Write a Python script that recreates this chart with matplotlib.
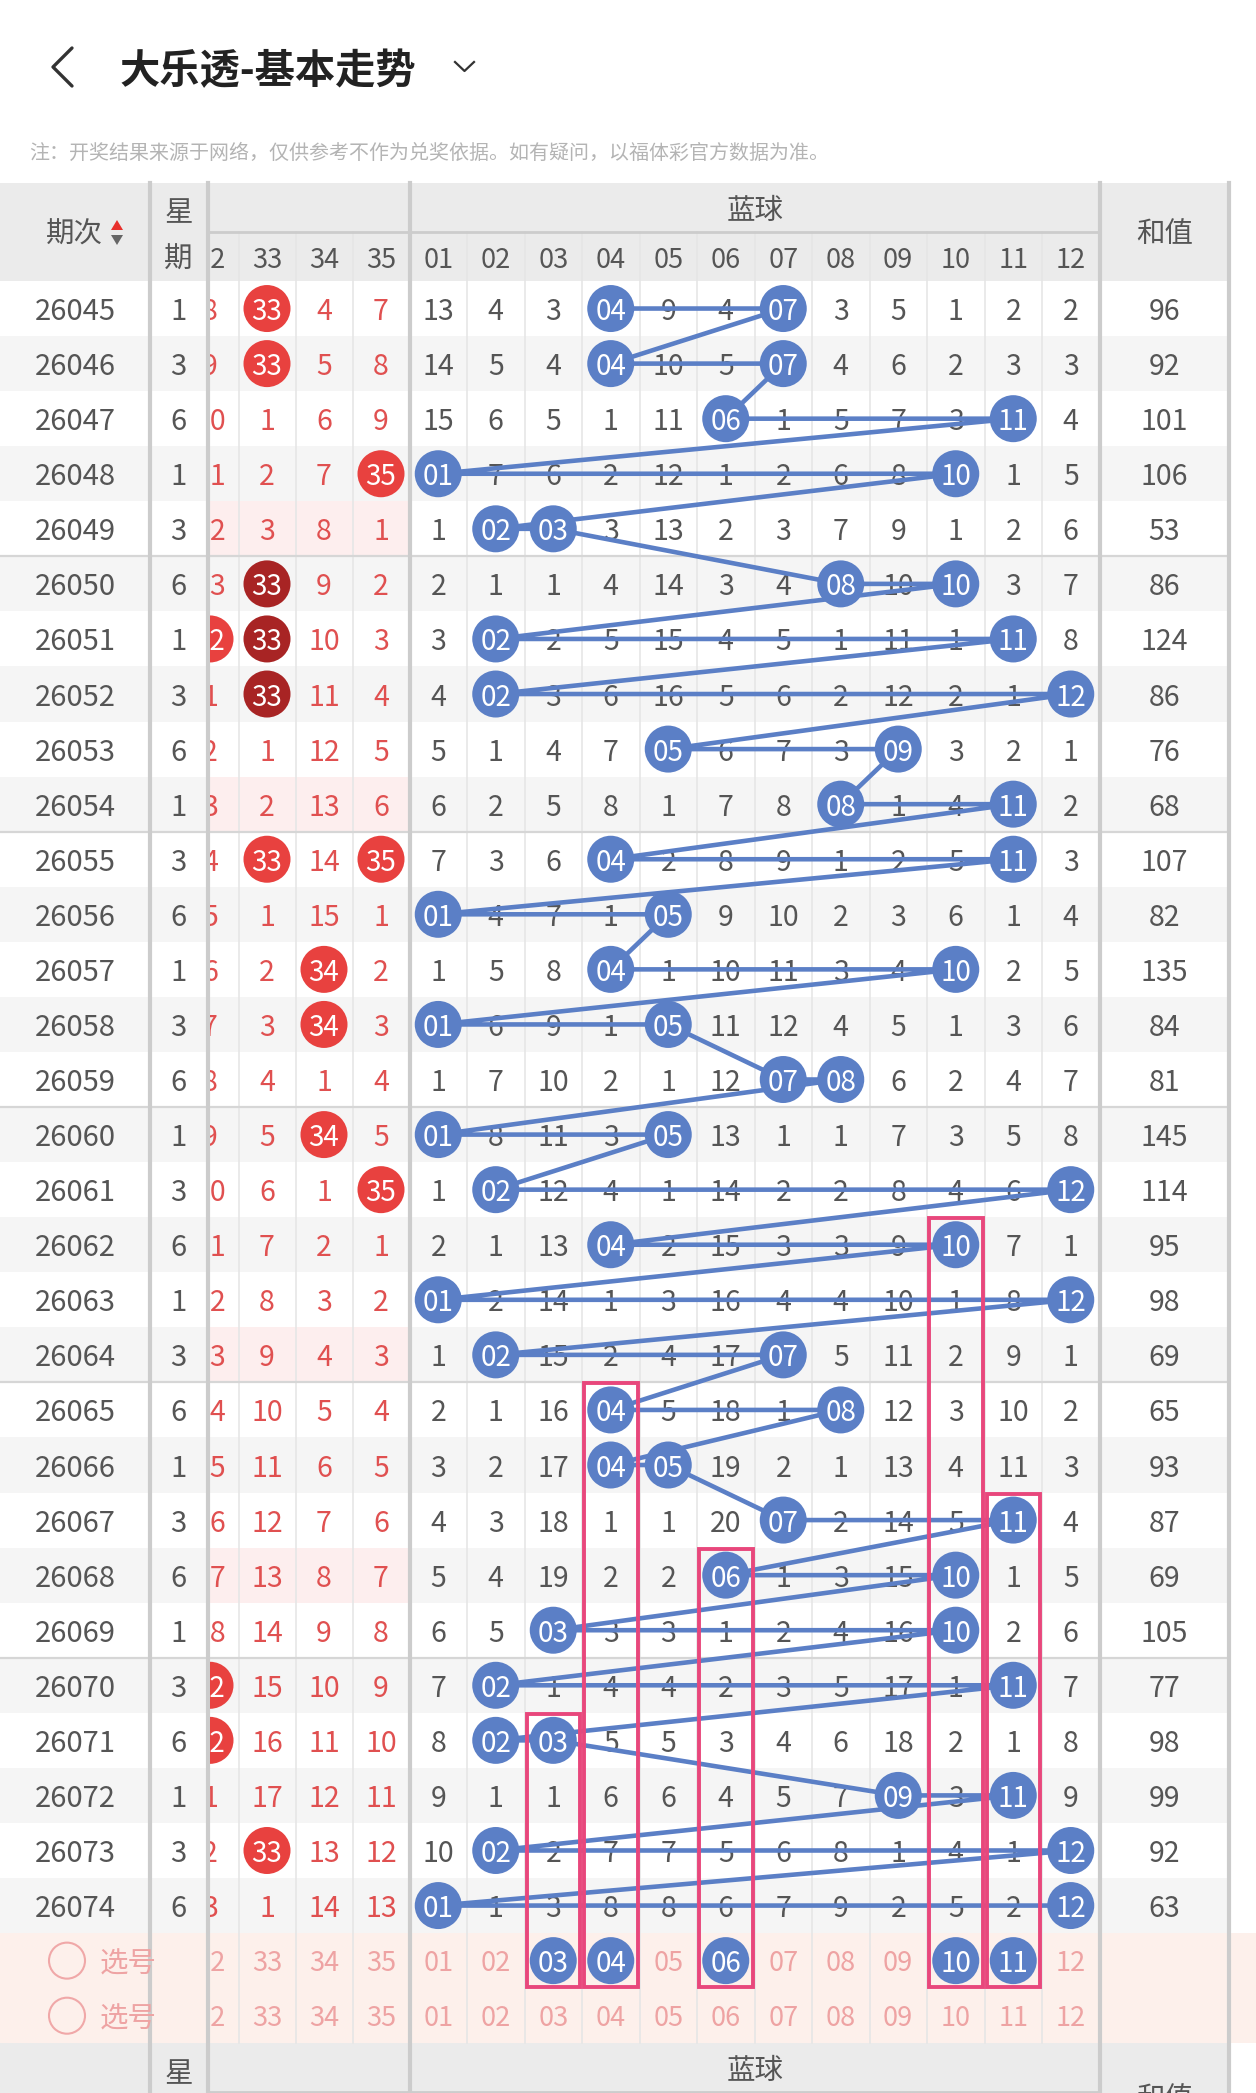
import matplotlib.pyplot as plt
from matplotlib.patches import Rectangle, Circle, Polygon

plt.rcParams['font.family'] = ['Noto Sans CJK SC', 'DejaVu Sans']

# ---- data ----
periods = ['26045', '26046', '26047', '26048', '26049', '26050', '26051', '26052',
           '26053', '26054', '26055', '26056', '26057', '26058', '26059', '26060',
           '26061', '26062', '26063', '26064', '26065', '26066', '26067', '26068',
           '26069', '26070', '26071', '26072', '26073', '26074']
weekdays = [1, 3, 6, 1, 3, 6, 1, 3, 6, 1, 3, 6, 1, 3, 6,
            1, 3, 6, 1, 3, 6, 1, 3, 6, 1, 3, 6, 1, 3, 6]

# front zone (only the last columns are visible), 0 = drawn ball
red_cols = ['32', '33', '34', '35']
red32 = [8, 9, 10, 11, 12, 13, 0, 1, 2, 3, 4, 5, 6, 7, 8, 9, 10, 11, 12, 13, 14, 15, 16, 17, 18, 0, 0, 1, 2, 3]
red33 = [0, 0, 1, 2, 3, 0, 0, 0, 1, 2, 0, 1, 2, 3, 4, 5, 6, 7, 8, 9, 10, 11, 12, 13, 14, 15, 16, 17, 0, 1]
red34 = [4, 5, 6, 7, 8, 9, 10, 11, 12, 13, 14, 15, 0, 0, 1, 0, 1, 2, 3, 4, 5, 6, 7, 8, 9, 10, 11, 12, 13, 14]
red35 = [7, 8, 9, 0, 1, 2, 3, 4, 5, 6, 0, 1, 2, 3, 4, 5, 0, 1, 2, 3, 4, 5, 6, 7, 8, 9, 10, 11, 12, 13]
dark_red = [('26050', '33'), ('26051', '33'), ('26052', '33')]
pink_rows = ['26049', '26054', '26064', '26068']

# back zone (蓝球) omission counts, 0 = drawn ball
blue_cols = ['01', '02', '03', '04', '05', '06', '07', '08', '09', '10', '11', '12']
blue_miss = [
    [13, 4, 3, 0, 9, 4, 0, 3, 5, 1, 2, 2],
    [14, 5, 4, 0, 10, 5, 0, 4, 6, 2, 3, 3],
    [15, 6, 5, 1, 11, 0, 1, 5, 7, 3, 0, 4],
    [0, 7, 6, 2, 12, 1, 2, 6, 8, 0, 1, 5],
    [1, 0, 0, 3, 13, 2, 3, 7, 9, 1, 2, 6],
    [2, 1, 1, 4, 14, 3, 4, 0, 10, 0, 3, 7],
    [3, 0, 2, 5, 15, 4, 5, 1, 11, 1, 0, 8],
    [4, 0, 3, 6, 16, 5, 6, 2, 12, 2, 1, 0],
    [5, 1, 4, 7, 0, 6, 7, 3, 0, 3, 2, 1],
    [6, 2, 5, 8, 1, 7, 8, 0, 1, 4, 0, 2],
    [7, 3, 6, 0, 2, 8, 9, 1, 2, 5, 0, 3],
    [0, 4, 7, 1, 0, 9, 10, 2, 3, 6, 1, 4],
    [1, 5, 8, 0, 1, 10, 11, 3, 4, 0, 2, 5],
    [0, 6, 9, 1, 0, 11, 12, 4, 5, 1, 3, 6],
    [1, 7, 10, 2, 1, 12, 0, 0, 6, 2, 4, 7],
    [0, 8, 11, 3, 0, 13, 1, 1, 7, 3, 5, 8],
    [1, 0, 12, 4, 1, 14, 2, 2, 8, 4, 6, 0],
    [2, 1, 13, 0, 2, 15, 3, 3, 9, 0, 7, 1],
    [0, 2, 14, 1, 3, 16, 4, 4, 10, 1, 8, 0],
    [1, 0, 15, 2, 4, 17, 0, 5, 11, 2, 9, 1],
    [2, 1, 16, 0, 5, 18, 1, 0, 12, 3, 10, 2],
    [3, 2, 17, 0, 0, 19, 2, 1, 13, 4, 11, 3],
    [4, 3, 18, 1, 1, 20, 0, 2, 14, 5, 0, 4],
    [5, 4, 19, 2, 2, 0, 1, 3, 15, 0, 1, 5],
    [6, 5, 0, 3, 3, 1, 2, 4, 16, 0, 2, 6],
    [7, 0, 1, 4, 4, 2, 3, 5, 17, 1, 0, 7],
    [8, 0, 0, 5, 5, 3, 4, 6, 18, 2, 1, 8],
    [9, 1, 1, 6, 6, 4, 5, 7, 0, 3, 0, 9],
    [10, 0, 2, 7, 7, 5, 6, 8, 1, 4, 1, 0],
    [0, 1, 3, 8, 8, 6, 7, 9, 2, 5, 2, 0],
]
sums = [96, 92, 101, 106, 53, 86, 124, 86, 76, 68, 107, 82, 135, 84, 81,
        145, 114, 95, 98, 69, 65, 93, 87, 69, 105, 77, 98, 99, 92, 63]

# user picks in the first 选号 row and where their boxes start
picked = ['03', '04', '06', '10', '11']
box_from = ['26071', '26065', '26068', '26062', '26067']

# ---- layout (pixels) ----
W, H = 1256, 2093
HEAD_TOP, HEAD_MID, HEAD_BOT = 183, 232, 281
ROW_H = 55.07
X_WEEK, X_RED, X_BLUE, X_SUM, X_END = 150, 207.5, 409.5, 1100, 1229
RED_W, BLUE_W = 57, 57.5
R = 23.5

BLUE = '#5b7fc6'
RED = '#e8413f'
DARK = '#a82424'
PINKBOX = '#e8477c'
GREYTXT = '#555555'
REDTXT = '#e05050'
SELTXT = '#eea3a3'
LINE = '#e6e6e6'
THICK = '#cccccc'

n = len(periods)


def row_y(i):
    return HEAD_BOT + (i + 0.5) * ROW_H


def red_x(j):
    return X_BLUE - (len(red_cols) - j - 0.5) * RED_W


def blue_x(k):
    return X_BLUE + (k + 0.5) * BLUE_W


SEL_TOP = HEAD_BOT + n * ROW_H
sel_y = [SEL_TOP + 0.5 * ROW_H, SEL_TOP + 1.5 * ROW_H]
FOOT_TOP = SEL_TOP + 2 * ROW_H

fig = plt.figure(figsize=(W / 100, H / 100), dpi=100)
ax = fig.add_axes([0, 0, 1, 1])
ax.set_xlim(0, W)
ax.set_ylim(H, 0)
ax.axis('off')

red_clip = Rectangle((X_RED + 2, 0), X_BLUE - X_RED - 2, H, transform=ax.transData)


def txt(x, y, s, size=20, color=GREYTXT, clip=False, **kw):
    t = ax.text(x, y, s, fontsize=size, color=color, ha='center', va='center_baseline', **kw)
    if clip:
        t.set_clip_on(True)
        t.set_clip_path(red_clip)
    return t


# title bar
ax.plot([72, 53, 72], [48, 67, 86], color='#333333', lw=2.4, solid_capstyle='round')
ax.text(120, 67, '大乐透-基本走势', fontsize=29, fontweight='bold', color='#222222',
        ha='left', va='center_baseline')
ax.plot([455, 464.5, 474], [62, 71, 62], color='#333333', lw=1.6)
ax.text(29, 151, '注：开奖结果来源于网络，仅供参考不作为兑奖依据。如有疑问，以福体彩官方数据为准。',
        fontsize=14.4, color='#b4b4b4', ha='left', va='center_baseline')

# backgrounds
ax.add_patch(Rectangle((0, HEAD_TOP), X_END, HEAD_BOT - HEAD_TOP, color='#ebebeb', lw=0))
for i, p in enumerate(periods):
    y0 = HEAD_BOT + i * ROW_H
    if i % 2 == 1:
        ax.add_patch(Rectangle((0, y0), X_END, ROW_H, color='#f5f5f5', lw=0))
    if p in pink_rows:
        ax.add_patch(Rectangle((X_RED, y0), X_BLUE - X_RED, ROW_H, color='#fdeeee', lw=0))
ax.add_patch(Rectangle((0, SEL_TOP), W, 2 * ROW_H, color='#fdf0eb', lw=0))
ax.add_patch(Rectangle((0, FOOT_TOP), X_END, H - FOOT_TOP, color='#ebebeb', lw=0))

# grid lines
for j in range(len(red_cols)):
    xe = X_BLUE - (len(red_cols) - j) * RED_W
    if xe > X_RED:
        ax.plot([xe, xe], [HEAD_MID, FOOT_TOP], color=LINE, lw=1.2)
for k in range(1, len(blue_cols)):
    xe = X_BLUE + k * BLUE_W
    ax.plot([xe, xe], [HEAD_MID, FOOT_TOP], color=LINE, lw=1.2)
ax.plot([X_RED, X_SUM], [HEAD_MID, HEAD_MID], color=THICK, lw=2)
ax.plot([X_RED, X_SUM], [FOOT_TOP + 49, FOOT_TOP + 49], color=THICK, lw=2)
for g in range(5, n, 5):
    yg = HEAD_BOT + g * ROW_H
    ax.plot([0, X_END], [yg, yg], color='#d6d6d6', lw=1.6)
for xv in [X_WEEK, X_RED, X_BLUE, X_SUM, X_END]:
    ax.plot([xv, xv], [HEAD_TOP, H], color=THICK, lw=3)

# header
txt(74, 231, '期次', size=20.5)
ax.add_patch(Polygon([[111, 230], [123, 230], [117, 220]], color='#e8302c', lw=0))
ax.add_patch(Polygon([[111, 235], [123, 235], [117, 245]], color='#666666', lw=0))
txt(178.5, 210, '星', size=20.5)
txt(178.5, 256, '期', size=20.5)
txt((X_BLUE + X_SUM) / 2, 207, '蓝球', size=20.5)
txt((X_SUM + X_END) / 2, 231, '和值', size=20.5)
for j, c in enumerate(red_cols):
    txt(red_x(j), 257, c, size=19.5, clip=True)
for k, c in enumerate(blue_cols):
    txt(blue_x(k), 257, c, size=19.5)

# body text
red_table = [red32, red33, red34, red35]
for i, p in enumerate(periods):
    y = row_y(i)
    txt(75, y, p, size=21)
    txt(178.5, y, str(weekdays[i]), size=21)
    txt((X_SUM + X_END) / 2, y, str(sums[i]), size=20.5)
    for j, col in enumerate(red_table):
        v = col[i]
        x = red_x(j)
        if v == 0:
            fc = DARK if (p, red_cols[j]) in dark_red else RED
            c = Circle((x, y), R, color=fc, lw=0, zorder=4)
            ax.add_patch(c)
            c.set_clip_path(red_clip)
            txt(x, y, red_cols[j], size=20, color='white', clip=True, zorder=5)
        else:
            txt(x, y, str(v), size=20.5, color=REDTXT, clip=True)
    for k, v in enumerate(blue_miss[i]):
        if v != 0:
            txt(blue_x(k), y, str(v), size=20.5, zorder=2)

# blue trend line and balls
px, py = [], []
for i, row in enumerate(blue_miss):
    for k, v in enumerate(row):
        if v == 0:
            px.append(blue_x(k))
            py.append(row_y(i))
ax.plot(px, py, color=BLUE, lw=3.3, zorder=3, solid_joinstyle='round')
for i, row in enumerate(blue_miss):
    for k, v in enumerate(row):
        if v == 0:
            ax.add_patch(Circle((blue_x(k), row_y(i)), R, color=BLUE, lw=0, zorder=4))
            txt(blue_x(k), row_y(i), blue_cols[k], size=20, color='white', zorder=5)

# 选号 rows
for r, ys in enumerate(sel_y):
    ax.add_patch(Circle((67, ys), 18, fill=False, ec='#f0a8a8', lw=1.5))
    txt(128, ys, '选号', size=20.5, color=SELTXT)
    for j, c in enumerate(red_cols):
        txt(red_x(j), ys, c, size=19.5, color=SELTXT, clip=True)
    for k, c in enumerate(blue_cols):
        if r == 0 and c in picked:
            ax.add_patch(Circle((blue_x(k), ys), R, color=BLUE, lw=0, zorder=4))
            txt(blue_x(k), ys, c, size=20, color='white', zorder=5)
        else:
            txt(blue_x(k), ys, c, size=19.5, color=SELTXT)

# pick boxes
for c, p in zip(picked, box_from):
    k = blue_cols.index(c)
    i = periods.index(p)
    top = HEAD_BOT + i * ROW_H + 1
    ax.add_patch(Rectangle((X_BLUE + k * BLUE_W + 2, top), BLUE_W - 4, sel_y[0] + 26 - top,
                           fill=False, ec=PINKBOX, lw=2.8, zorder=6))

# repeated header at the bottom (cut off)
txt(178.5, FOOT_TOP + 27, '星', size=20.5)
txt((X_BLUE + X_SUM) / 2, FOOT_TOP + 24, '蓝球', size=20.5)
txt((X_SUM + X_END) / 2, FOOT_TOP + 52, '和值', size=20.5)
txt(74, FOOT_TOP + 64, '期次', size=20.5)

fig.savefig('out.png', dpi=100, facecolor='white')
